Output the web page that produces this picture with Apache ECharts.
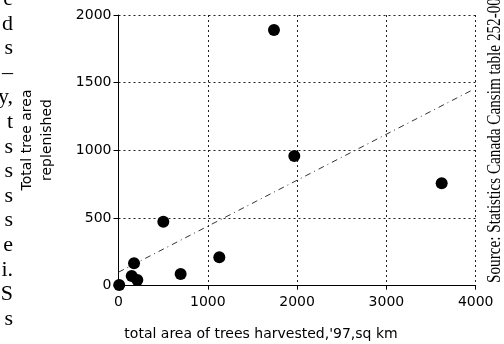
<!DOCTYPE html>
<html>
<head>
<meta charset="utf-8">
<script src="https://cdn.jsdelivr.net/npm/echarts@6/dist/echarts.min.js"></script>
<style>
  html, body { margin: 0; padding: 0; background: #fff; }
  #chart { width: 504px; height: 344px; }
</style>
</head>
<body>
<div id="chart"></div>
<script>
// harvested area ('97, sq km) vs replenished area
var harvested   = [8, 502, 174, 148, 211, 696, 1129, 1741, 1969, 3619];
var replenished = [5, 473, 165, 72, 42, 86, 210, 1889, 958, 757];

// trend line end points
var trendX = [0, 3960];
var trendY = [100, 1445];

var xTicks = [0, 1000, 2000, 3000, 4000];
var yTicks = [0, 500, 1000, 1500, 2000];

// cut-off letters of the page text on the left
var marginLetters = ['e', 'd', 's', '–', 'y,', 't', 's', 's', 's', 's', 'e', 'i.', 'S', 's'];

var points = harvested.map(function (x, i) { return [x, replenished[i]]; });
var trend = trendX.map(function (x, i) { return [x, trendY[i]]; });

var font = 'DejaVu Sans';
var plain = function (v) { return String(v); };

var option = {
    backgroundColor: '#fff',
    animation: false,
    grid: { left: 118.5, right: 28.3, top: 15, bottom: 58.3 },
    xAxis: {
        type: 'value',
        min: xTicks[0], max: xTicks[xTicks.length - 1], interval: 1000,
        axisLine: { onZero: false, lineStyle: { color: '#000', width: 1 } },
        axisTick: { show: true, length: 4, lineStyle: { color: '#000' } },
        axisLabel: { color: '#000', fontFamily: font, fontSize: 14, margin: 10, formatter: plain },
        splitLine: { show: true, lineStyle: { color: '#222', type: [2, 3], width: 1 } }
    },
    yAxis: {
        type: 'value',
        min: yTicks[0], max: yTicks[yTicks.length - 1], interval: 500,
        axisLine: { show: true, onZero: false, lineStyle: { color: '#000', width: 1 } },
        axisTick: { show: true, length: 5, lineStyle: { color: '#000' } },
        axisLabel: { color: '#000', fontFamily: font, fontSize: 14, margin: 7, formatter: plain },
        splitLine: { show: true, lineStyle: { color: '#222', type: [2, 3], width: 1 } }
    },
    series: [
        {
            type: 'line',
            data: trend,
            symbol: 'none',
            lineStyle: { color: '#333', width: 1, type: [6, 4, 1, 4] },
            z: 2
        },
        {
            type: 'scatter',
            data: points,
            symbol: 'circle',
            symbolSize: 12,
            itemStyle: { color: '#000', opacity: 1 },
            z: 3
        }
    ],
    graphic: [
        {
            type: 'text',
            x: 37, y: 140,
            rotation: Math.PI / 2,
            style: {
                text: 'Total tree area\nreplenished',
                fontFamily: font, fontSize: 14, lineHeight: 20,
                fill: '#000', align: 'center', verticalAlign: 'middle'
            }
        },
        {
            type: 'text',
            x: 261, y: 334,
            style: {
                text: "total area of trees harvested,'97,sq km",
                fontFamily: font, fontSize: 14,
                fill: '#000', align: 'center', verticalAlign: 'middle'
            }
        },
        {
            type: 'text',
            x: 495, y: 283,
            rotation: Math.PI / 2,
            scaleX: 0.8,
            style: {
                text: 'Source: Statistics Canada Cansim table 252-00',
                fontFamily: 'Liberation Serif', fontSize: 19,
                fill: '#000', align: 'left', verticalAlign: 'middle'
            }
        },
        {
            type: 'text',
            x: 13, y: -13,
            style: {
                text: marginLetters.join('\n'),
                fontFamily: 'Liberation Serif', fontSize: 22, lineHeight: 24.6,
                fill: '#000', align: 'right', verticalAlign: 'top'
            }
        }
    ]
};

var myChart = echarts.init(document.getElementById('chart'));
myChart.setOption(option);
</script>
</body>
</html>
